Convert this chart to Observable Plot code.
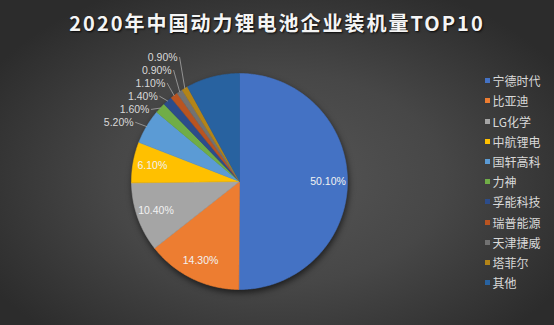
<!DOCTYPE html>
<html><head><meta charset="utf-8">
<script src="https://cdn.jsdelivr.net/npm/d3@7"></script>
<script src="https://cdn.jsdelivr.net/npm/@observablehq/plot@0.6"></script>
<style>
html,body{margin:0;padding:0;background:#fff;}
#chart{position:relative;width:554px;height:325px;overflow:hidden;
  background: radial-gradient(ellipse 60% 65% at 50% 55%, #565656 0%, #474747 50%, #2c2c2c 100%);
  font-family:"Noto Sans CJK SC","Noto Sans",sans-serif;}
#title{position:absolute;left:0;top:8px;width:554px;text-align:center;color:#f5f5f5;font-size:20px;font-weight:bold;letter-spacing:2px;text-shadow:1px 1px 2px rgba(0,0,0,0.85);}
#legend{position:absolute;left:485px;top:70.6px;color:#d9d9d9;font-size:12px;}
.item{height:20.2px;display:flex;align-items:center;white-space:nowrap;}
.sw{width:5px;height:5px;margin-right:2.5px;flex:none;}
#plot{position:absolute;left:0;top:0;}
</style></head><body>
<div id="chart"><div id="title">2020年中国动力锂电池企业装机量TOP10</div><div id="legend"></div><div id="plot"></div></div>
<script>
const companies = ["宁德时代","比亚迪","LG化学","中航锂电","国轩高科","力神","孚能科技","瑞普能源","天津捷威","塔菲尔","其他"];
const shares = [50.1, 14.3, 10.4, 6.1, 5.2, 1.6, 1.4, 1.1, 0.9, 0.9, 8.0];
const showLabel = [true,true,true,true,true,true,true,true,true,true,false];
const colors = ["#4472C4","#ED7D31","#A5A5A5","#FFC000","#5B9BD5","#70AD47","#2C4C8A","#B95421","#727272","#B38418","#2862A0"];

// layout
const cx = 239, cy = 181, R = 108;
const total = d3.sum(shares);
const fmt = v => d3.format(".2f")(v) + "%";

// slices (clockwise from 12 o'clock)
let acc = 0;
const slices = companies.map((name, i) => {
  const a0 = acc / total * 2 * Math.PI;
  acc += shares[i];
  const a1 = acc / total * 2 * Math.PI;
  return {name, value: shares[i], a0, a1, mid: (a0 + a1) / 2, i};
});
const pt = (a, r) => ({x: r * Math.sin(a), y: r * Math.cos(a)});

const polyPts = [];
for (const s of slices) {
  polyPts.push({name: s.name, ...pt(0, 0)});
  const n = Math.max(2, Math.ceil((s.a1 - s.a0) / 0.01));
  for (let k = 0; k <= n; k++) polyPts.push({name: s.name, ...pt(s.a0 + (s.a1 - s.a0) * k / n, 1)});
  polyPts.push({name: s.name, ...pt(0, 0)});
}

const inside = slices.filter(s => showLabel[s.i] && s.value >= 6)
  .map(s => ({text: fmt(s.value), ...pt(s.mid, 0.82)}));

// outside labels: place at r=1.15 then push apart vertically (symmetric relaxation)
const gap = 13 / R;
const outs = slices.filter(s => showLabel[s.i] && s.value < 6)
  .map(s => ({name: s.name, text: fmt(s.value), edge: pt(s.mid, 1.0), ...pt(s.mid, 1.15)}));
outs.sort((a, b) => a.y - b.y);
for (let it = 0; it < 300; it++) {
  for (let k = 1; k < outs.length; k++) {
    const d = outs[k].y - outs[k-1].y;
    if (d < gap) { const m = (gap - d) / 2; outs[k].y += m; outs[k-1].y -= m; }
  }
}
const leaderPts = [];
for (const o of outs) {
  leaderPts.push({name: o.name, x: o.edge.x, y: o.edge.y});
  leaderPts.push({name: o.name, x: o.x + 3 / R, y: o.y});
  o.x = o.x + 1 / R;
}

const plot = Plot.plot({
  width: 554, height: 325, margin: 0,
  x: {domain: [-1, 1], range: [cx - R, cx + R], axis: null},
  y: {domain: [-1, 1], range: [cy + R, cy - R], axis: null},
  color: {domain: companies, range: colors},
  style: {background: "transparent", overflow: "visible"},
  marks: [
    Plot.line(polyPts, {x: "x", y: "y", z: "name", fill: "name", stroke: "name", strokeWidth: 0.6, curve: "linear"}),
    Plot.line(leaderPts, {x: "x", y: "y", z: "name", stroke: "#a6a6a6", strokeWidth: 0.8}),
    Plot.text(inside, {x: "x", y: "y", text: "text", fill: "#f2f2f2", fontSize: 10.5, fontFamily: "Liberation Sans, Noto Sans, sans-serif"}),
    Plot.text(outs, {x: "x", y: "y", text: "text", textAnchor: "end", fill: "#d9d9d9", fontSize: 10.5, fontFamily: "Liberation Sans, Noto Sans, sans-serif"})
  ]
});
const g = plot.querySelector("g[aria-label=line]");
if (g) g.style.filter = "drop-shadow(1px 3px 3px rgba(0,0,0,0.6))";
document.getElementById("plot").appendChild(plot);

const legend = document.getElementById("legend");
companies.forEach((c, i) => {
  const d = document.createElement("div");
  d.className = "item";
  d.innerHTML = `<span class="sw" style="background:${colors[i]}"></span><span>${c}</span>`;
  legend.appendChild(d);
});
</script>
</body></html>
